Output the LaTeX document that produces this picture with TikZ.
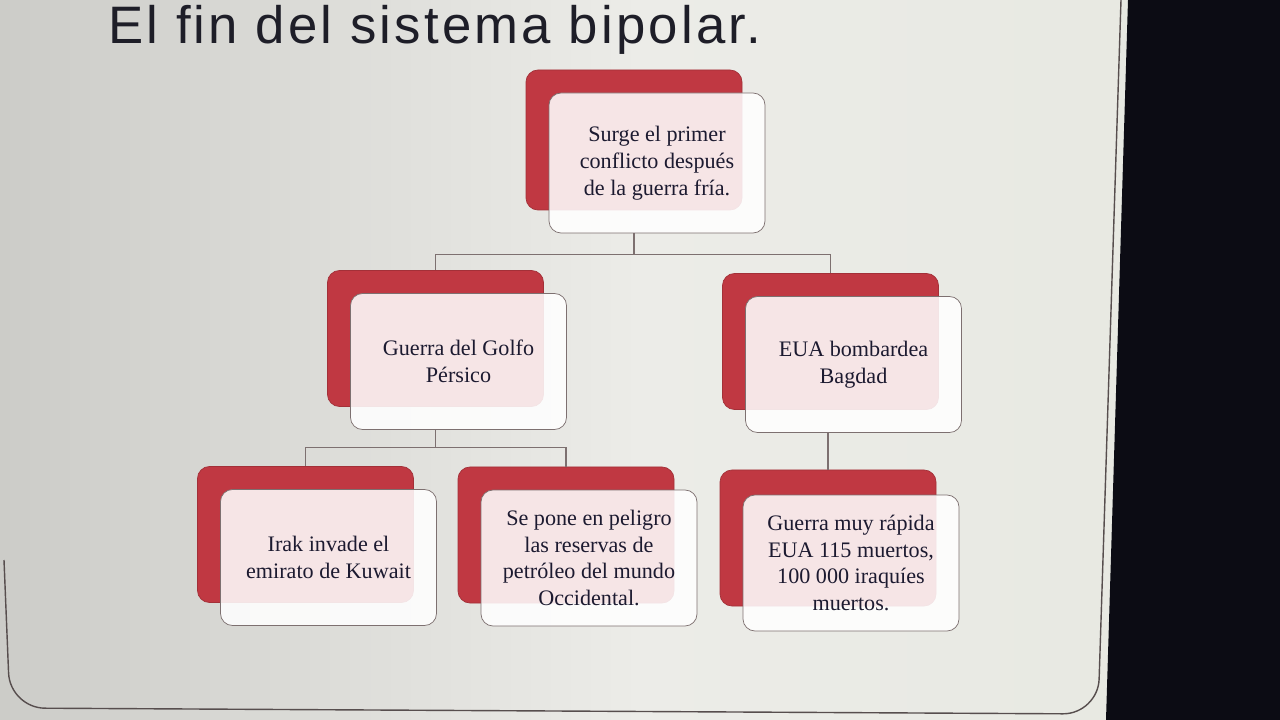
\documentclass[tikz,border=0pt]{standalone}
\usepackage{fontspec}
\setmainfont{Liberation Serif}
\newfontfamily\titlefont[LetterSpace=6]{Liberation Sans}
\usetikzlibrary{positioning}

\definecolor{boxred}{RGB}{192,56,66}
\definecolor{edgegrey}{RGB}{125,112,112}
\definecolor{inkblue}{RGB}{28,26,48}
\definecolor{titleink}{RGB}{30,30,40}
\definecolor{darkside}{RGB}{12,12,20}

\begin{document}
\begin{tikzpicture}
[
	x=0.2mm,y=-0.2mm,
	backbox/.style={draw=boxred!85!black,fill=boxred,rounded corners=2.4mm,minimum width=43.2mm,minimum height=27.2mm,inner sep=0pt},
	frontbox/.style={draw=edgegrey,fill=white,fill opacity=0.87,text opacity=1,rounded corners=2.4mm,minimum width=43.2mm,minimum height=27.2mm,align=center,inner sep=0pt,font=\fontsize{12.6}{15.3}\selectfont,text=inkblue},
	link/.style={draw=edgegrey,line width=0.6pt}
]
	\useasboundingbox (0,0) rectangle (1280,720);

	% screen
	\shade[left color={rgb,255:red,204;green,204;blue,200},right color={rgb,255:red,230;green,232;blue,224},middle color={rgb,255:red,236;green,236;blue,232}] (0,0) rectangle (1280,720);
	\fill[darkside] (1128,0) -- (1280,0) -- (1280,720) -- (1106,720) -- cycle;
	\draw[edgegrey!70!black,line width=0.8pt,rounded corners=7mm] (4,560) -- (10,708) -- (1098,714) -- (1121,0);

	% title
	\node[anchor=base west,inner sep=0pt,font=\titlefont\fontsize{30}{33}\selectfont,text=titleink] (title) at (108,44) {El fin del sistema bipolar.};

	% red boxes
	\node[backbox,minimum height=28mm] (r1) at (634,140) {};
	\node[backbox] (r2) at (435.5,338.5) {};
	\node[backbox] (r3) at (830.5,341.5) {};
	\node[backbox] (r4) at (305.5,534.5) {};
	\node[backbox] (r5) at (566,535) {};
	\node[backbox] (r6) at (828,538) {};

	% text boxes
	\node[frontbox,minimum height=28mm] (f1) at ([shift={(23,23)}]r1) {Surge el primer\\conflicto después\\de la guerra fría.};
	\node[frontbox] (f2) at ([shift={(23,23)}]r2) {Guerra del Golfo\\Pérsico};
	\node[frontbox] (f3) at ([shift={(23,23)}]r3) {EUA bombardea\\Bagdad};
	\node[frontbox] (f4) at ([shift={(23,23)}]r4) {Irak invade el\\emirato de Kuwait};
	\node[frontbox] (f5) at ([shift={(23,23)}]r5) {Se pone en peligro\\las reservas de\\petróleo del mundo\\Occidental.};
	\node[frontbox] (f6) at ([shift={(23,25)}]r6) {Guerra muy rápida\\EUA 115 muertos,\\100 000 iraquíes\\muertos.};

	% links
	\draw[link] (r1 |- f1.south) -- ++(0,21) coordinate (j1) -| (r2.north);
	\draw[link] (j1) -| (r3.north);
	\draw[link] (r2 |- f2.south) -- ++(0,18) coordinate (j2) -| (r4.north);
	\draw[link] (j2) -| (r5.north);
	\draw[link] (r6 |- f3.south) -- (r6.north);

\end{tikzpicture}
\end{document}
